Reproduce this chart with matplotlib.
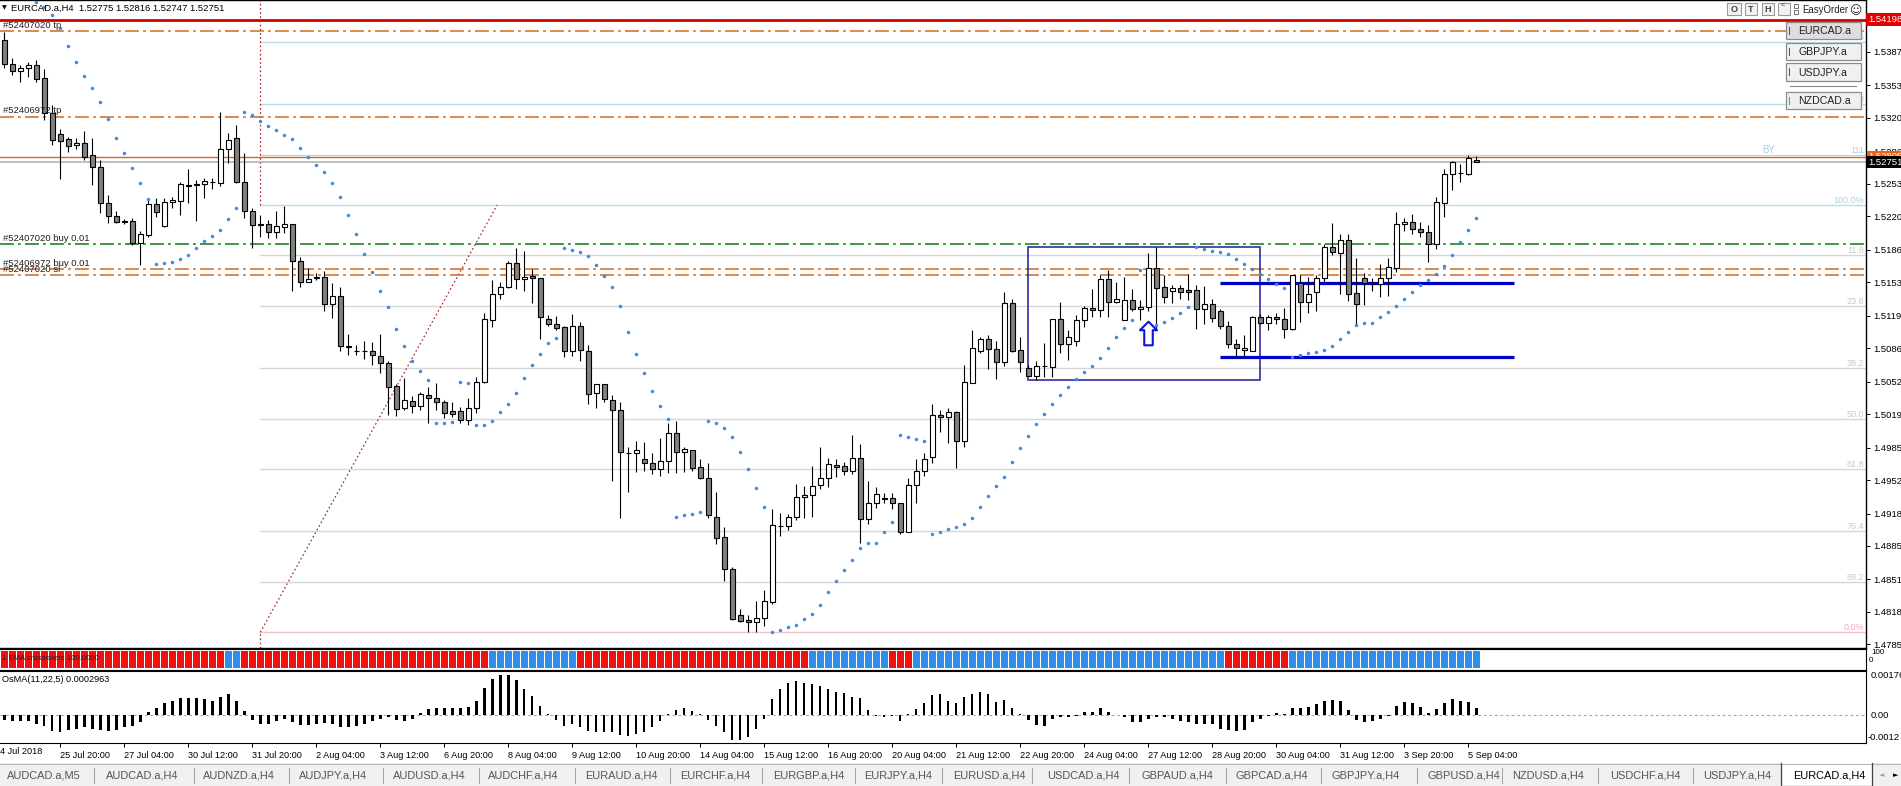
import numpy as np
import matplotlib
matplotlib.use("Agg")
import matplotlib.pyplot as plt
from matplotlib.patches import Rectangle
from matplotlib.path import Path
from matplotlib.transforms import blended_transform_factory as blend

plt.rcParams['font.family'] = ['Liberation Sans', 'DejaVu Sans']
plt.rcParams['lines.scale_dashes'] = False

# ── data: EURCAD.a H4, 24 Jul 16:00 .. 5 Sep 08:00 ─────────────────────────
title_txt = "EURCAD.a,H4  1.52775 1.52816 1.52747 1.52751"

opens = [1.53991, 1.53747, 1.53676, 1.53706, 1.53734, 1.53601, 1.53246, 1.53032, 1.52980, 1.52921,
         1.52941, 1.52822, 1.52697, 1.52331, 1.52202, 1.52147, 1.52152, 1.51925, 1.52009, 1.52321,
         1.52101, 1.52342, 1.52358, 1.52512, 1.52522, 1.52525, 1.52549, 1.52541, 1.52880, 1.52995,
         1.52545, 1.52253, 1.52116, 1.52118, 1.52037, 1.52094, 1.52118, 1.51748, 1.51535, 1.51573,
         1.51580, 1.51305, 1.51390, 1.50873, 1.50831, 1.50831, 1.50831, 1.50780, 1.50706, 1.50475,
         1.50255, 1.50326, 1.50275, 1.50384, 1.50350, 1.50316, 1.50224, 1.50224, 1.50130, 1.50249,
         1.50519, 1.51146, 1.51407, 1.51484, 1.51728, 1.51559, 1.51593, 1.51569, 1.51153, 1.51102,
         1.51072, 1.50831, 1.51085, 1.50834, 1.50401, 1.50493, 1.50330, 1.50228, 1.49793, 1.49791,
         1.49731, 1.49690, 1.49629, 1.49710, 1.49995, 1.49802, 1.49822, 1.49649, 1.49537, 1.49141,
         1.48938, 1.48616, 1.48149, 1.48095, 1.48075, 1.48115, 1.48284, 1.49051, 1.49053, 1.49141,
         1.49344, 1.49365, 1.49466, 1.49537, 1.49669, 1.49659, 1.49609, 1.49741, 1.49121, 1.49283,
         1.49331, 1.49334, 1.49283, 1.48995, 1.49466, 1.49612, 1.49751, 1.50178, 1.50157, 1.50208,
         1.49913, 1.50509, 1.50828, 1.50950, 1.50848, 1.50716, 1.51316, 1.50841, 1.50655, 1.50580,
         1.50676, 1.50671, 1.51153, 1.50899, 1.50932, 1.51143, 1.51268, 1.51244, 1.51559, 1.51326,
         1.51143, 1.51346, 1.51255, 1.51275, 1.51671, 1.51478, 1.51437, 1.51468, 1.51448, 1.51448,
         1.51255, 1.51305, 1.51234, 1.51082, 1.50899, 1.50838, 1.50836, 1.51179, 1.51112, 1.51173,
         1.51153, 1.51051, 1.51519, 1.51326, 1.51433, 1.51569, 1.51891, 1.51830, 1.51959, 1.51417,
         1.51569, 1.51509, 1.51509, 1.51569, 1.51677, 1.52118, 1.52138, 1.52067, 1.52037, 1.51921,
         1.52331, 1.52626, 1.52644, 1.52632, 1.52775]
highs = [1.54075, 1.53805, 1.53737, 1.53764, 1.53787, 1.53696, 1.53330, 1.53083, 1.53008, 1.52998,
         1.53066, 1.52992, 1.52771, 1.52416, 1.52253, 1.52172, 1.52179, 1.52050, 1.52372, 1.52382,
         1.52382, 1.52399, 1.52551, 1.52677, 1.52568, 1.52592, 1.52592, 1.53262, 1.53043, 1.53127,
         1.52839, 1.52281, 1.52213, 1.52162, 1.52253, 1.52304, 1.52121, 1.51783, 1.51677, 1.51620,
         1.51644, 1.51519, 1.51484, 1.51000, 1.50892, 1.50932, 1.50925, 1.51000, 1.50732, 1.50496,
         1.50554, 1.50374, 1.50417, 1.50468, 1.50509, 1.50333, 1.50316, 1.50265, 1.50350, 1.50570,
         1.51214, 1.51552, 1.51535, 1.51748, 1.51880, 1.51847, 1.51661, 1.51576, 1.51197, 1.51186,
         1.51085, 1.51207, 1.51129, 1.50892, 1.50493, 1.50493, 1.50384, 1.50310, 1.49859, 1.49916,
         1.49909, 1.49791, 1.49944, 1.50102, 1.50120, 1.49859, 1.49822, 1.49731, 1.49696, 1.49401,
         1.49040, 1.48633, 1.48206, 1.48149, 1.48291, 1.48403, 1.49223, 1.49182, 1.49172, 1.49476,
         1.49459, 1.49662, 1.49852, 1.49740, 1.49731, 1.49700, 1.49974, 1.49886, 1.49510, 1.49446,
         1.49385, 1.49385, 1.49283, 1.49537, 1.49734, 1.49791, 1.50292, 1.50231, 1.50249, 1.50224,
         1.50689, 1.51044, 1.50976, 1.50993, 1.50932, 1.51427, 1.51356, 1.50976, 1.50689, 1.50732,
         1.50909, 1.51153, 1.51329, 1.51044, 1.51197, 1.51288, 1.51458, 1.51600, 1.51654, 1.51529,
         1.51583, 1.51458, 1.51349, 1.51824, 1.51884, 1.51603, 1.51501, 1.51501, 1.51610, 1.51501,
         1.51491, 1.51356, 1.51255, 1.51139, 1.50950, 1.50991, 1.51183, 1.51207, 1.51197, 1.51214,
         1.51265, 1.51603, 1.51603, 1.51586, 1.51603, 1.51918, 1.52134, 1.52020, 1.52020, 1.51779,
         1.51626, 1.51576, 1.51715, 1.51773, 1.52246, 1.52185, 1.52223, 1.52141, 1.52111, 1.52392,
         1.52677, 1.52764, 1.52731, 1.52822, 1.52816]
lows = [1.53709, 1.53635, 1.53567, 1.53618, 1.53567, 1.53178, 1.52924, 1.52575, 1.52856, 1.52880,
        1.52771, 1.52517, 1.52230, 1.52128, 1.52128, 1.52121, 1.51908, 1.51705, 1.51992, 1.52189,
        1.52088, 1.52281, 1.52213, 1.52331, 1.52155, 1.52382, 1.52474, 1.52510, 1.52738, 1.52538,
        1.52179, 1.51874, 1.51992, 1.51982, 1.51982, 1.52027, 1.51443, 1.51478, 1.51532, 1.51552,
        1.51237, 1.51169, 1.50834, 1.50790, 1.50790, 1.50746, 1.50689, 1.50604, 1.50181, 1.50171,
        1.50231, 1.50198, 1.50231, 1.50096, 1.50231, 1.50147, 1.50164, 1.50096, 1.50079, 1.50204,
        1.50503, 1.51078, 1.51359, 1.51474, 1.51461, 1.51443, 1.51322, 1.50953, 1.51085, 1.51044,
        1.50767, 1.50780, 1.50732, 1.50289, 1.50255, 1.50316, 1.49513, 1.49137, 1.49401, 1.49604,
        1.49615, 1.49578, 1.49564, 1.49588, 1.49588, 1.49598, 1.49615, 1.49527, 1.49131, 1.48867,
        1.48497, 1.48098, 1.48080, 1.47979, 1.47979, 1.48040, 1.48260, 1.48954, 1.49012, 1.49114,
        1.49131, 1.49147, 1.49432, 1.49452, 1.49548, 1.49568, 1.49578, 1.48877, 1.49070, 1.49233,
        1.49283, 1.49223, 1.48968, 1.48989, 1.49283, 1.49564, 1.49690, 1.50011, 1.49893, 1.49639,
        1.49852, 1.50503, 1.50808, 1.50651, 1.50550, 1.50682, 1.50824, 1.50621, 1.50577, 1.50536,
        1.50570, 1.50570, 1.50814, 1.50739, 1.50882, 1.51078, 1.51179, 1.51179, 1.51173, 1.51319,
        1.51143, 1.51237, 1.51146, 1.51240, 1.51044, 1.51322, 1.51316, 1.51359, 1.51349, 1.51051,
        1.51102, 1.51129, 1.51051, 1.50858, 1.50773, 1.50773, 1.50831, 1.51105, 1.51044, 1.51102,
        1.50966, 1.51044, 1.51129, 1.51220, 1.51237, 1.51535, 1.51806, 1.51410, 1.51339, 1.51095,
        1.51298, 1.51440, 1.51383, 1.51393, 1.51637, 1.52053, 1.52023, 1.51992, 1.51732, 1.51864,
        1.52195, 1.52467, 1.52551, 1.52619, 1.52747]
closes = [1.53744, 1.53676, 1.53703, 1.53734, 1.53591, 1.53246, 1.52975, 1.52964, 1.52914, 1.52947,
          1.52805, 1.52697, 1.52331, 1.52202, 1.52138, 1.52143, 1.51925, 1.52016, 1.52321, 1.52240,
          1.52342, 1.52365, 1.52528, 1.52522, 1.52527, 1.52558, 1.52553, 1.52880, 1.52975, 1.52545,
          1.52253, 1.52111, 1.52119, 1.52037, 1.52101, 1.52118, 1.51748, 1.51535, 1.51562, 1.51578,
          1.51305, 1.51390, 1.50885, 1.50877, 1.50835, 1.50835, 1.50790, 1.50706, 1.50468, 1.50239,
          1.50333, 1.50275, 1.50391, 1.50350, 1.50316, 1.50198, 1.50191, 1.50130, 1.50249, 1.50519,
          1.51153, 1.51407, 1.51484, 1.51728, 1.51559, 1.51586, 1.51569, 1.51179, 1.51102, 1.51068,
          1.50831, 1.51085, 1.50841, 1.50391, 1.50493, 1.50340, 1.50228, 1.49802, 1.49797, 1.49822,
          1.49690, 1.49629, 1.49710, 1.49995, 1.49802, 1.49838, 1.49639, 1.49537, 1.49161, 1.48928,
          1.48613, 1.48105, 1.48091, 1.48075, 1.48115, 1.48288, 1.49060, 1.49055, 1.49141, 1.49344,
          1.49365, 1.49463, 1.49537, 1.49680, 1.49649, 1.49609, 1.49741, 1.49121, 1.49283, 1.49375,
          1.49335, 1.49283, 1.48995, 1.49466, 1.49612, 1.49731, 1.50178, 1.50157, 1.50208, 1.49913,
          1.50513, 1.50858, 1.50950, 1.50848, 1.50716, 1.51316, 1.50834, 1.50722, 1.50580, 1.50682,
          1.50681, 1.51153, 1.50899, 1.50976, 1.51143, 1.51265, 1.51244, 1.51559, 1.51326, 1.51356,
          1.51346, 1.51255, 1.51275, 1.51671, 1.51468, 1.51383, 1.51468, 1.51427, 1.51427, 1.51255,
          1.51305, 1.51163, 1.51082, 1.50899, 1.50858, 1.50864, 1.51181, 1.51112, 1.51173, 1.51153,
          1.51051, 1.51603, 1.51332, 1.51410, 1.51569, 1.51891, 1.51834, 1.51959, 1.51407, 1.51305,
          1.51525, 1.51514, 1.51569, 1.51687, 1.52118, 1.52138, 1.52067, 1.52037, 1.51921, 1.52342,
          1.52626, 1.52748, 1.52640, 1.52789, 1.52751]

nan = float("nan")
sar = [nan, nan, nan, nan, 1.54380, 1.54329, 1.54245, 1.54109, 1.53930, 1.53764,
       1.53622, 1.53500, 1.53358, 1.53188, 1.52995, 1.52840, 1.52687, 1.52535, 1.52372, 1.51712,
       1.51722, 1.51732, 1.51765, 1.51803, 1.51874, 1.51945, 1.51996, 1.52057, 1.52169, 1.52281,
       1.53256, 1.53229, 1.53171, 1.53120, 1.53073, 1.53022, 1.52988, 1.52890, 1.52799, 1.52717,
       1.52646, 1.52535, 1.52392, 1.52210, 1.52016, 1.51813, 1.51630, 1.51437, 1.51275, 1.51051,
       1.50879, 1.50732, 1.50625, 1.50533, 1.50096, 1.50096, 1.50106, 1.50513, 1.50503, 1.50076,
       1.50076, 1.50117, 1.50211, 1.50289, 1.50401, 1.50554, 1.50686, 1.50797, 1.50909, 1.50963,
       1.51874, 1.51854, 1.51834, 1.51793, 1.51702, 1.51589, 1.51478, 1.51285, 1.51021, 1.50797,
       1.50604, 1.50421, 1.50269, 1.50137, 1.49141, 1.49161, 1.49175, 1.49192, 1.50117, 1.50096,
       1.50046, 1.49954, 1.49802, 1.49629, 1.49436, 1.49251, 1.47973, 1.47993, 1.48025, 1.48044,
       1.48105, 1.48156, 1.48247, 1.48379, 1.48491, 1.48603, 1.48704, 1.48826, 1.48877, 1.48877,
       1.48989, 1.49090, 1.49974, 1.49957, 1.49934, 1.49913, 1.48968, 1.48989, 1.49019, 1.49043,
       1.49070, 1.49131, 1.49243, 1.49355, 1.49456, 1.49548, 1.49703, 1.49842, 1.49964, 1.50086,
       1.50188, 1.50289, 1.50381, 1.50462, 1.50543, 1.50614, 1.50675, 1.50757, 1.50858, 1.50970,
       1.51061, 1.51143, 1.51654, 1.51061, 1.51095, 1.51130, 1.51170, 1.51220, 1.51280, 1.51884,
       1.51864, 1.51844, 1.51834, 1.51813, 1.51762, 1.51712, 1.51661, 1.51610, 1.51559, 1.51509,
       1.51468, 1.50767, 1.50787, 1.50808, 1.50821, 1.50838, 1.50879, 1.50950, 1.51021, 1.51092,
       1.51112, 1.51112, 1.51173, 1.51224, 1.51285, 1.51356, 1.51427, 1.51498, 1.51549, 1.51610,
       1.51691, 1.51803, 1.51935, 1.52057, 1.52179]

osma = [-0.00022, -0.00026, -0.00026, -0.00026, -0.00037, -0.00048, -0.00069, -0.00073, -0.00066, -0.00059,
        -0.00054, -0.00059, -0.00063, -0.00069, -0.00066, -0.00054, -0.00048, -0.00029, 0.00015, 0.00029,
        0.00051, 0.00062, 0.00073, 0.00073, 0.00073, 0.00069, 0.00063, 0.00081, 0.00091, 0.00062,
        0.00018, -0.00022, -0.00040, -0.00040, -0.00026, -0.00018, -0.00029, -0.00044, -0.00044, -0.00040,
        -0.00034, -0.00040, -0.00054, -0.00054, -0.00048, -0.00037, -0.00025, -0.00018, -0.00010, -0.00022,
        -0.00025, -0.00018, 0.00010, 0.00028, 0.00031, 0.00031, 0.00029, 0.00029, 0.00037, 0.00062,
        0.00117, 0.00158, 0.00176, 0.00176, 0.00154, 0.00113, 0.00084, 0.00041, 0.00004, -0.00022,
        -0.00047, -0.00037, -0.00054, -0.00069, -0.00073, -0.00073, -0.00073, -0.00088, -0.00091, -0.00081,
        -0.00073, -0.00054, -0.00026, 0.00007, 0.00022, 0.00031, 0.00019, 0.00004, -0.00022, -0.00048,
        -0.00073, -0.00107, -0.00107, -0.00095, -0.00059, -0.00018, 0.00070, 0.00114, 0.00142, 0.00150,
        0.00142, 0.00135, 0.00125, 0.00113, 0.00103, 0.00095, 0.00078, 0.00073, 0.00022, -0.00004,
        -0.00007, -0.00004, -0.00025, 0.00007, 0.00026, 0.00054, 0.00088, 0.00092, 0.00060, 0.00054,
        0.00078, 0.00092, 0.00103, 0.00091, 0.00059, 0.00066, 0.00029, 0.00004, -0.00022, -0.00044,
        -0.00048, -0.00015, -0.00010, -0.00007, -0.00002, 0.00012, 0.00015, 0.00029, 0.00015, 0.00002,
        -0.00010, -0.00029, -0.00029, -0.00015, -0.00010, -0.00010, -0.00019, -0.00025, -0.00029, -0.00037,
        -0.00041, -0.00041, -0.00059, -0.00066, -0.00069, -0.00063, -0.00029, -0.00015, -0.00004, 0.00010,
        0.00007, 0.00029, 0.00029, 0.00037, 0.00048, 0.00062, 0.00066, 0.00063, 0.00022, -0.00022,
        -0.00029, -0.00025, -0.00015, -0.00004, 0.00040, 0.00056, 0.00051, 0.00037, 0.00010, 0.00025,
        0.00051, 0.00069, 0.00062, 0.00059, 0.000296]

# EMA crossover strip: runs of (state, bars), R = bearish, B = bullish
ema_runs = [("R", 28), ("B", 2), ("R", 31), ("B", 11), ("R", 29), ("B", 10),
            ("R", 3), ("B", 39), ("R", 8), ("B", 24)]

time_idx = [7, 15, 23, 31, 39, 47, 55, 63, 71, 79, 87, 95, 103, 111, 119, 127,
            135, 143, 151, 159, 167, 175, 183]
time_txt = ["25 Jul 20:00", "27 Jul 04:00", "30 Jul 12:00", "31 Jul 20:00", "2 Aug 04:00",
            "3 Aug 12:00", "6 Aug 20:00", "8 Aug 04:00", "9 Aug 12:00", "10 Aug 20:00",
            "14 Aug 04:00", "15 Aug 12:00", "16 Aug 20:00", "20 Aug 04:00", "21 Aug 12:00",
            "22 Aug 20:00", "24 Aug 04:00", "27 Aug 12:00", "28 Aug 20:00", "30 Aug 04:00",
            "31 Aug 12:00", "3 Sep 20:00", "5 Sep 04:00"]

price_ticks = [1.5387, 1.5353, 1.5320, 1.5286, 1.5253, 1.5220, 1.5186, 1.5153, 1.5119,
               1.5086, 1.5052, 1.5019, 1.4985, 1.4952, 1.4918, 1.4885, 1.4851, 1.4818, 1.4785]

# order lines
order_prices = [1.54079, 1.53211, 1.51915, 1.51661, 1.51600]
order_labels = ["#52407020 tp", "#52406972 tp", "#52407020 buy 0.01",
                "#52406972 buy 0.01", "#52407020 sl"]
order_colors = ["#D2691E", "#D2691E", "#0E7A0E", "#D2691E", "#D2691E"]
alert_price = 1.54198
ask_price = 1.52805
bid_price = 1.52751

# fibonacci
fib_p100, fib_p0 = 1.52314, 1.47973
fib_idx0, fib_idx1 = 32, 61.6
fib_levels = [-38.2, -23.6, -11.8, 0.0, 11.8, 23.6, 38.2, 50.0, 61.8, 76.4, 88.2, 100.0]
fib_texts = ["135", "123", "111", "100.0%", "11.8", "23.6", "38.2", "50.0", "61.8",
             "76.4", "88.2", "0.0%"]

# range box, levels, arrow
box_idx = (128, 157)
box_prices = (1.50536, 1.51884)
level_idx = (152, 188.7)
level_prices = [1.51525, 1.50773]
arrow_idx, arrow_price = 143, 1.51009

symbols = ["EURCAD.a", "GBPJPY.a", "USDJPY.a", "NZDCAD.a"]
symbol_up = [True, True, True, False]

tab_names = ["AUDCAD.a,M5", "AUDCAD.a,H4", "AUDNZD.a,H4", "AUDJPY.a,H4", "AUDUSD.a,H4",
             "AUDCHF.a,H4", "EURAUD.a,H4", "EURCHF.a,H4", "EURGBP.a,H4", "EURJPY.a,H4",
             "EURUSD.a,H4", "USDCAD.a,H4", "GBPAUD.a,H4", "GBPCAD.a,H4", "GBPJPY.a,H4",
             "GBPUSD.a,H4", "NZDUSD.a,H4", "USDCHF.a,H4", "USDJPY.a,H4", "EURCAD.a,H4"]

# ── layout (pixels) ────────────────────────────────────────────────────────
W, H = 1901, 786
AX_R = 1866
fig = plt.figure(figsize=(W / 100, H / 100), dpi=100)
fig.patch.set_facecolor("white")


def px_axes(x0, y0, x1, y1):
    return fig.add_axes([x0 / W, 1 - y1 / H, (x1 - x0) / W, (y1 - y0) / H])


n = len(opens)
idx = np.arange(n)
xlim = (-4.3 / 8, (AX_R - 4.3) / 8)

o = np.array(opens); h = np.array(highs); l = np.array(lows); c = np.array(closes)

# ── main price chart ───────────────────────────────────────────────────────
ax = px_axes(0, 0, AX_R, 647.5)
ax.set_xlim(*xlim)
ax.set_ylim(1.54397 - 647.5 / 9843, 1.54397)
ax.spines["left"].set_visible(False)
for s in ["top", "right", "bottom"]:
    ax.spines[s].set_linewidth(1.0)
ax.set_xticks([])
ax.yaxis.tick_right()
ax.set_yticks(price_ticks)
ax.set_yticklabels([f"{v:.5f}" for v in price_ticks])
ax.tick_params(axis="y", length=3, width=0.7, pad=2.5, labelsize=6.8)

# fib levels
fib_rng = fib_p100 - fib_p0
for lev, txt in zip(fib_levels, fib_texts):
    p = fib_p100 - lev / 100 * fib_rng
    if lev <= 0:
        col, tcol = "#B9DCE8", "#A9D2E2"
    elif lev == 100:
        col, tcol = "#F4C0CA", "#F0A8B8"
    else:
        col, tcol = "#D6D6D6", "#C8C8C8"
    ax.plot([fib_idx0, xlim[1]], [p, p], color=col, lw=1.0, zorder=1)
    ax.text(xlim[1] - 0.2, p, txt, ha="right", va="bottom", fontsize=6.5, color=tcol, zorder=1)
ax.text(220.5, fib_p100 + 0.118 * fib_rng, "BY", ha="center", va="bottom", fontsize=7,
        color="#A9D2E2")
dot = (0, (1.2, 1.8))
ax.plot([fib_idx0, fib_idx1], [fib_p0, fib_p100], color="#A52A2A", lw=0.9, ls=dot, zorder=1)
ax.plot([fib_idx0, fib_idx0], [fib_p100, ax.get_ylim()[1]], color="#A52A2A", lw=0.9,
        ls=dot, zorder=1)
ax.plot([fib_idx0, fib_idx0], [ax.get_ylim()[0], fib_p0], color="#A52A2A", lw=0.9,
        ls=dot, zorder=1)

# order / price lines
ax.axhline(alert_price, color="#D40000", lw=2.0, zorder=2)
for p, col in zip(order_prices, order_colors):
    ax.axhline(p, color=col, lw=1.1, ls=(0, (10, 3, 2, 3)), zorder=2)
ax.axhline(ask_price, color="#D2691E", lw=1.0, zorder=2)
ax.axhline(bid_price, color="#B4B4B4", lw=1.2, zorder=2)

lbl_tr = blend(ax.transAxes, ax.transData)
for p, txt in zip(order_prices, order_labels):
    ax.text(0.0015, p + 0.00018, txt, transform=lbl_tr, ha="left", va="bottom",
            fontsize=6.8, color="#202020", zorder=6)

# range box and levels
ax.add_patch(Rectangle((box_idx[0], box_prices[0]), box_idx[1] - box_idx[0],
                       box_prices[1] - box_prices[0], fill=False, ec="#1C1C9C", lw=1.1, zorder=3))
for p in level_prices:
    ax.plot(level_idx, [p, p], color="#0000CD", lw=2.3, zorder=3, solid_capstyle="butt")

# candles
ax.vlines(idx, l, h, color="black", lw=0.8, zorder=4)
bull = c >= o
ax.bar(idx, np.abs(c - o), bottom=np.minimum(o, c), width=0.62,
       color=np.where(bull, "white", "#808080"), edgecolor="black", linewidth=0.8, zorder=5)

# parabolic SAR
ax.plot(idx, sar, ls="none", marker="o", ms=2.5, mfc="#3D8BE0", mec="none", zorder=6)

# up arrow
arrow_path = Path([(0, 12.5), (9, 3.5), (4.5, 3.5), (4.5, -12.5), (-4.5, -12.5), (-4.5, 3.5),
                   (-9, 3.5), (0, 12.5)],
                  [Path.MOVETO] + [Path.LINETO] * 6 + [Path.CLOSEPOLY])
ax.plot([arrow_idx], [arrow_price], marker=arrow_path, ms=17, mfc="white", mec="#1010E0",
        mew=1.5, ls="none", zorder=7)

# ── EMA crossover strip ────────────────────────────────────────────────────
sx = px_axes(0, 649, AX_R, 669.5)
sx.set_xlim(*xlim)
sx.set_ylim(-0.12, 1.12)
states = [s for s, k in ema_runs for _ in range(k)]
sx.bar(idx, [1] * n, bottom=0, width=0.86,
       color=["#F01010" if s == "R" else "#2E8FEA" for s in states], zorder=2)
sx.set_xticks([]); sx.set_yticks([])
sx.spines["left"].set_visible(False)

# ── OsMA ───────────────────────────────────────────────────────────────────
ox = px_axes(0, 670.5, AX_R, 743)
ox.set_xlim(*xlim)
ox.set_ylim(-0.001219, 0.001949)
ox.spines["left"].set_visible(False)
ox.axhline(0, color="#A8A8A8", lw=0.8, ls=(0, (2, 2)), zorder=1)
ox.bar(idx, osma, width=0.3, color="black", zorder=2)
ox.set_yticks([])
ox.set_xticks(time_idx)
ox.set_xticklabels(time_txt)
ox.tick_params(axis="x", length=3, width=0.7, pad=2.5, labelsize=6.6)
for t in ox.get_xticklabels():
    t.set_ha("left")

# ── overlay: texts, buttons, tabs ──────────────────────────────────────────
ui = fig.add_axes([0, 0, 1, 1], zorder=10)
ui.set_xlim(0, W); ui.set_ylim(H, 0)
ui.axis("off")
ui.patch.set_alpha(0)
uy = blend(ui.transData, ax.transData)

# header
ui.text(1.5, 8, "\u25BC", fontsize=4.5, va="center", ha="left", color="black",
        family="DejaVu Sans")
ui.text(11, 8.5, title_txt, fontsize=6.8, va="center", ha="left", color="black")

# axis price boxes
ax.text(1868, ask_price, f"{ask_price:.5f}", transform=uy, ha="left", va="center",
        fontsize=6.8, color="white", clip_on=False, zorder=20,
        bbox=dict(boxstyle="square,pad=0.15", fc="#F06010", ec="none"))
ax.text(1868, bid_price, f"{bid_price:.5f}", transform=uy, ha="left", va="center",
        fontsize=6.8, color="white", clip_on=False, zorder=21,
        bbox=dict(boxstyle="square,pad=0.15", fc="black", ec="none"))
ax.text(1868, alert_price, f"{alert_price:.5f}", transform=uy, ha="left", va="center",
        fontsize=6.8, color="white", clip_on=False, zorder=21,
        bbox=dict(boxstyle="square,pad=0.2", fc="#E00000", ec="none"))

# top-right buttons
for x0, x1, ch in [(1727, 1741, "O"), (1745, 1757, "T"), (1762, 1774, "H"), (1778, 1790, "")]:
    ui.add_patch(Rectangle((x0, 2.5), x1 - x0, 12.5, fc="#F2F2F2", ec="#9A9A9A", lw=0.8))
    ui.text((x0 + x1) / 2, 9, ch, ha="center", va="center", fontsize=6.5,
            fontweight="bold", color="#404040")
ui.text(1781, 5, "<", ha="left", va="center", fontsize=5.5, color="#404040")
ui.add_patch(Rectangle((1794, 3.5), 4, 4, fc="white", ec="#707070", lw=0.7))
ui.add_patch(Rectangle((1794, 9.5), 4, 4, fc="white", ec="#707070", lw=0.7))
ui.text(1802, 10, "EasyOrder", ha="left", va="center", fontsize=6.9, color="#202020")
ui.text(1849, 10.5, "\u263A", ha="left", va="center", fontsize=8.5, color="#202020",
        family="DejaVu Sans")

btn_y = [21.7, 42.7, 63.3, 91.7]
for k, (sym, up, y0) in enumerate(zip(symbols, symbol_up, btn_y)):
    ui.add_patch(Rectangle((1786, y0), 74.5, 17.5, fc="#DEDEDE" if k == 0 else "#F0F0F0",
                           ec="#8C8C8C", lw=0.9))
    ui.add_patch(Rectangle((1788.5, y0 + 5), 1.6, 8, fc="#118811" if up else "#E05555",
                           ec="none"))
    ui.text(1798.5, y0 + 9.3, sym, ha="left", va="center", fontsize=7.6, color="#202020")
ui.plot([1790, 1856], [86.3, 86.3], color="#8A8A8A", lw=0.8)

# strip / osma labels
ui.text(2, 659, "1 EMA crossovers 100.0000", ha="left", va="center", fontsize=5.6,
        color="#3A1A1A")
ui.text(1871, 653, "100", ha="left", va="center", fontsize=5.8, color="black")
ui.text(1869, 661, "0", ha="left", va="center", fontsize=5.8, color="black")
ui.text(2, 680, "OsMA(11,22,5) 0.0002963", ha="left", va="center", fontsize=6.6,
        color="black")
ui.text(1871, 676, "0.00176", ha="left", va="center", fontsize=6.8, color="black")
ui.text(1871, 715, "0.00", ha="left", va="center", fontsize=6.8, color="black")
ui.text(1868, 737, "-0.0012", ha="left", va="center", fontsize=6.8, color="black")
ui.text(-5, 752, "24 Jul 2018", ha="left", va="center", fontsize=6.6, color="black")

# tabs
ui.add_patch(Rectangle((0, 763), W, 23, fc="#F0F0F0", ec="none", zorder=0))
ui.plot([0, W], [763.5, 763.5], color="#B8B8B8", lw=0.8)
tab_x = [7, 106, 203, 299, 393, 488, 585, 680, 773, 864, 953, 1047, 1142, 1236, 1332,
         1427, 1512, 1610, 1703, 1793]
sep_x = [94, 194, 289, 383, 479, 575, 670, 762, 855, 942, 1032, 1129, 1226, 1321, 1417,
         1502, 1598, 1693]
for sx_ in sep_x:
    ui.plot([sx_, sx_], [768, 783], color="#A8A8A8", lw=0.8)
ui.add_patch(Rectangle((1781, 762.5), 91, 23, fc="white", ec="none", zorder=1))
ui.plot([1781, 1781, 1872, 1872], [763, 785.5, 785.5, 763], color="#404040", lw=0.9)
for k, (name, x0) in enumerate(zip(tab_names, tab_x)):
    active = k == len(tab_names) - 1
    ui.text(x0, 775.5, name, ha="left", va="center", fontsize=7.9,
            color="black" if active else "#555555", zorder=3)
ui.text(1879, 775.5, "\u25C4", ha="left", va="center", fontsize=5, color="#A0A0A0",
        family="DejaVu Sans")
ui.text(1893, 775.5, "\u25BA", ha="left", va="center", fontsize=5, color="black",
        family="DejaVu Sans")

fig.savefig("out.png", dpi=100)
